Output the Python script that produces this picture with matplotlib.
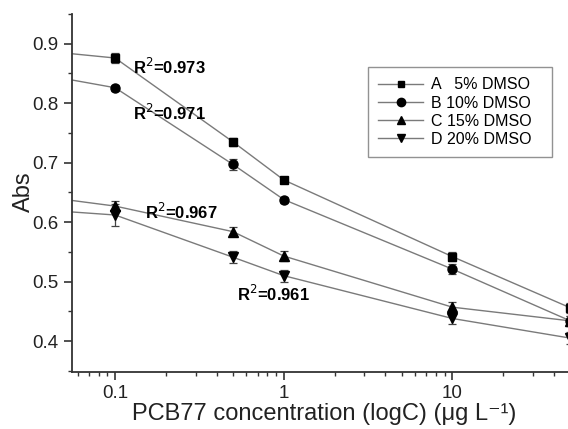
import matplotlib
matplotlib.use('Agg')
import matplotlib.pyplot as plt
from matplotlib.ticker import MultipleLocator, LogLocator, NullFormatter, FixedLocator, FixedFormatter

plt.rcParams['font.family'] = ['Liberation Sans', 'DejaVu Sans']

# concentration (ug/L); the 0.01 point lies left of the visible axis range
conc = [0.01, 0.1, 0.5, 1, 10, 50]

# absorbance for each DMSO level
abs_a = [0.904, 0.876, 0.735, 0.671, 0.542, 0.456]
abs_b = [0.877, 0.826, 0.697, 0.638, 0.521, 0.434]
abs_c = [0.664, 0.627, 0.584, 0.543, 0.457, 0.434]
abs_d = [0.632, 0.612, 0.541, 0.510, 0.438, 0.405]

err_a = [0, 0.008, 0.007, 0.005, 0.008, 0.008]
err_b = [0, 0.005, 0.009, 0.005, 0.008, 0.008]
err_c = [0, 0.008, 0.008, 0.009, 0.009, 0.008]
err_d = [0, 0.018, 0.010, 0.010, 0.010, 0.010]

labels = ['A   5% DMSO', 'B 10% DMSO', 'C 15% DMSO', 'D 20% DMSO']
markers = ['s', 'o', '^', 'v']
msizes = [5.5, 6.5, 6.5, 6.5]

r2_text = ['R$^{2}$=0.973', 'R$^{2}$=0.971', 'R$^{2}$=0.967', 'R$^{2}$=0.961']
r2_x = [0.128, 0.128, 0.151, 0.53]
r2_y = [0.861, 0.783, 0.617, 0.479]

fig = plt.figure(figsize=(5.68, 4.29), dpi=100)
ax = fig.add_axes([72/568, 57/429, 549/568, 358/429])

series = [abs_a, abs_b, abs_c, abs_d]
errs = [err_a, err_b, err_c, err_d]
for y, e, m, s, lab in zip(series, errs, markers, msizes, labels):
    ax.plot(conc, y, color='#7a7a7a', lw=1.0, zorder=2)
    ax.errorbar(conc, y, yerr=e, fmt='none', ecolor='#444444', elinewidth=0.9,
                capsize=3, capthick=0.9, zorder=3)
    ax.plot(conc, y, linestyle='none', marker=m, color='black', ms=s, zorder=4)
    # legend proxy
    ax.plot([], [], color='#7a7a7a', lw=1.0, marker=m, mfc='black', mec='black',
            ms=s - 0.5, label=lab)

for t, x, y in zip(r2_text, r2_x, r2_y):
    ax.text(x, y, t, fontsize=12, fontweight='bold', ha='left', va='center')

ax.set_xscale('log')
ax.set_xlim(0.0555, 100)
ax.set_ylim(0.348, 0.95)

ax.xaxis.set_major_locator(FixedLocator([0.1, 1, 10]))
ax.xaxis.set_major_formatter(FixedFormatter(['0.1', '1', '10']))
ax.xaxis.set_minor_locator(LogLocator(base=10, subs=range(2, 10)))
ax.xaxis.set_minor_formatter(NullFormatter())
ax.yaxis.set_major_locator(MultipleLocator(0.1))
ax.yaxis.set_minor_locator(MultipleLocator(0.05))

ax.spines['top'].set_visible(False)
ax.spines['right'].set_visible(False)
ax.spines['left'].set_color('#333333')
ax.spines['bottom'].set_color('#333333')
ax.spines['left'].set_linewidth(1.3)
ax.spines['bottom'].set_linewidth(1.3)
ax.tick_params(which='major', direction='out', length=6, width=1.2, labelsize=13.5, colors='#333333', labelcolor='#222222')
ax.tick_params(which='minor', direction='out', length=3, width=1.0, colors='#333333')

# axis titles placed in figure coordinates
fig.text(24/568, 1 - 192/429, 'Abs', fontsize=17, rotation=90, ha='center', va='center', color='#222222')
fig.text(324/568, 1 - 420/429, 'PCB77 concentration (logC) (\u03bcg L\u207b\u00b9)',
         fontsize=17, ha='center', va='baseline', color='#222222')

leg = ax.legend(loc='upper left', bbox_to_anchor=(368/568, 1 - 157/429, 184/568, 90/429),
                bbox_transform=fig.transFigure, mode='expand', fontsize=11.5, frameon=True,
                fancybox=False, edgecolor='#777777', handlelength=2.8,
                labelspacing=0.2, borderpad=0.65, handletextpad=0.5,
                borderaxespad=0)
leg.get_frame().set_linewidth(1.0)

fig.savefig('out.png', dpi=100)
